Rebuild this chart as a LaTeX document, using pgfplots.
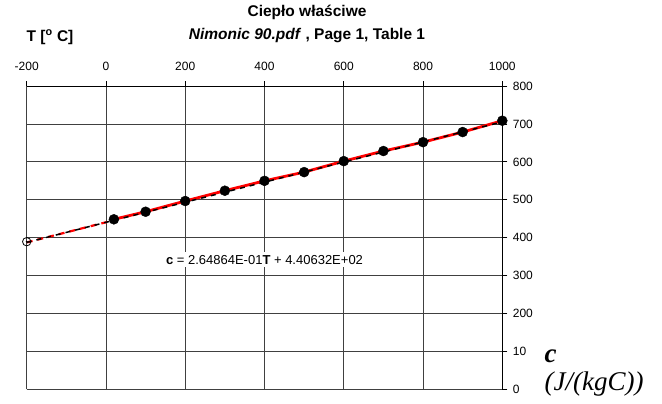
\documentclass[border=0pt]{standalone}
\usepackage{pgfplots}
\pgfplotsset{compat=1.18}
\usepackage{fontspec}
\setmainfont{Liberation Sans}
\newfontfamily\seriffont{Liberation Serif}

\begin{document}
\begin{tikzpicture}[x=1pt,y=1pt]
\useasboundingbox (0,0) rectangle (662,404);
\begin{axis}[
  at={(26.7pt,14.5pt)}, anchor=south west,
  scale only axis, width=475.6pt, height=303.5pt,
  xmin=-200, xmax=1000, ymin=0, ymax=800,
  axis x line*=top, axis y line*=right,
  axis line style={-, black, line width=0.8pt},
  xtick={-200,0,200,400,600,800,1000},
  ytick={0,100,200,300,400,500,600,700,800},
  yticklabels={0,10,200,300,400,500,600,700,800},
  tick align=outside, major tick length=5pt,
  tick style={black, line width=0.8pt},
  grid=major, grid style={black!75, line width=0.8pt},
  ticklabel style={font=\fontsize{12}{14}\selectfont},
  /pgf/number format/assume math mode=true,
  /pgf/number format/1000 sep={},
  xticklabel shift=7pt,
  yticklabel shift=2pt,
  clip=false,
]
\addplot[red, line width=2.2pt, dash pattern=on 6pt off 5pt] coordinates {(-200,387.7) (12,444.0)};
\addplot[red, line width=2.8pt] coordinates {
(20,448.6) (100,468.6) (200,496.8) (300,524) (400,550) (500,573)
(600,602) (700,628.6) (800,652) (900,678.6) (1000,708.5)};
\addplot[black, line width=1.5pt, dash pattern=on 5pt off 5pt] coordinates {(-200,387.66) (1000,705.50)};
\addplot[only marks, mark=*, mark size=5pt, black] coordinates {
(20,448.6) (100,468.6) (200,496.8) (300,524) (400,550) (500,573)
(600,602) (700,628.6) (800,652) (900,678.6) (1000,708.5)};
\addplot[only marks, mark=o, mark size=4.2pt, black, mark options={fill=white, line width=0.8pt}] coordinates {(-200,389.6)};
\addplot[only marks, mark=*, mark size=0.7pt, black] coordinates {(-200,389.6)};
\node[fill=white, inner sep=3pt, font=\fontsize{13}{15}\selectfont] at (axis cs:400,342) {\textbf{c} = 2.64864E-01\textbf{T} + 4.40632E+02};
\end{axis}
\node[font=\bfseries\fontsize{15.5}{18}\selectfont] at (307,392) {Ciepło właściwe};
\node[font=\bfseries\fontsize{15.5}{18}\selectfont] at (307,368) {\textit{Nimonic 90.pdf} , Page 1, Table 1};
\node[font=\bfseries\fontsize{15.5}{18}\selectfont] at (50,367) {T [\textsuperscript{o} C]};
\node[anchor=west, font=\seriffont\bfseries\itshape\fontsize{27}{30}\selectfont] at (541,48) {c};
\node[anchor=west, font=\seriffont\itshape\fontsize{27}{30}\selectfont] at (541,20) {(J/(kgC))};
\end{tikzpicture}
\end{document}
